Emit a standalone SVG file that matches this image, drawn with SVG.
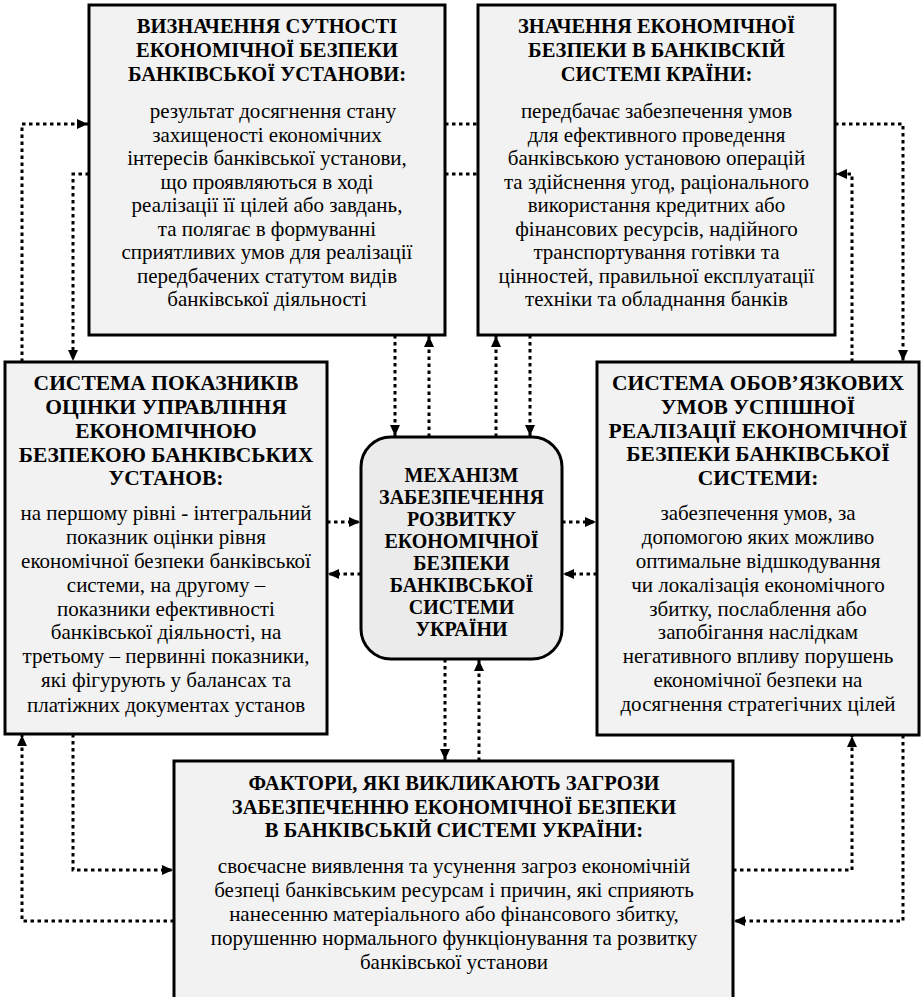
<svg xmlns="http://www.w3.org/2000/svg" width="923" height="997" viewBox="0 0 923 997">
  <defs>
    <marker id="head" viewBox="0 0 11 10" refX="11" refY="5" markerWidth="11" markerHeight="10" markerUnits="userSpaceOnUse" orient="auto">
      <path d="M0,0 L11,5 L0,10 z" fill="#000"/>
    </marker>
  </defs>

  <rect width="923" height="997" fill="#fff"/>

  <!-- connectors: dotted links, arrowhead at the receiving end -->
  <g id="connectors" fill="none" stroke="#000" stroke-width="3" stroke-dasharray="3.5 3.5">
    <path marker-end="url(#head)" d="M22,362 V124 H88"/>
    <path marker-end="url(#head)" d="M89,174 H73 V361"/>
    <path d="M445,124 H478"/>
    <path d="M445,174 H478"/>
    <path marker-end="url(#head)" d="M835,124 H903 V361"/>
    <path marker-end="url(#head)" d="M852,362 V174 H836"/>
    <path marker-end="url(#head)" d="M395,335 V436"/>
    <path marker-end="url(#head)" d="M429,437 V336"/>
    <path marker-end="url(#head)" d="M496,437 V336"/>
    <path marker-end="url(#head)" d="M530,335 V436"/>
    <path marker-end="url(#head)" d="M327,522 H360"/>
    <path marker-end="url(#head)" d="M361,574 H328"/>
    <path marker-end="url(#head)" d="M562,522 H596"/>
    <path marker-end="url(#head)" d="M597,574 H563"/>
    <path marker-end="url(#head)" d="M445,659 V760"/>
    <path marker-end="url(#head)" d="M479,761 V660"/>
    <path marker-end="url(#head)" d="M73,734 V870 H173"/>
    <path marker-end="url(#head)" d="M174,921 H22 V735"/>
    <path marker-end="url(#head)" d="M733,870 H852 V736"/>
    <path marker-end="url(#head)" d="M903,735 V921 H734"/>
  </g>

  <!-- essence of economic security of a bank -->
  <g id="essence">
    <rect x="89" y="5" width="356" height="330" fill="#f2f2f2" stroke="#000" stroke-width="3"/>
    <text style="font-family:'Liberation Serif',serif;font-weight:bold;font-size:20.5px;text-anchor:middle" x="267" y="33">ВИЗНАЧЕННЯ СУТНОСТІ</text>
    <text style="font-family:'Liberation Serif',serif;font-weight:bold;font-size:20.5px;text-anchor:middle" x="267" y="56.5">ЕКОНОМІЧНОЇ БЕЗПЕКИ</text>
    <text style="font-family:'Liberation Serif',serif;font-weight:bold;font-size:20.5px;text-anchor:middle" x="267" y="80.5">БАНКІВСЬКОЇ УСТАНОВИ:</text>
    <text style="font-family:'Liberation Serif',serif;font-size:21px;text-anchor:middle" x="273" y="118">результат досягнення стану</text>
    <text style="font-family:'Liberation Serif',serif;font-size:21px;text-anchor:middle" x="267" y="141.5">захищеності економічних</text>
    <text style="font-family:'Liberation Serif',serif;font-size:21px;text-anchor:middle" x="267" y="165">інтересів банківської установи,</text>
    <text style="font-family:'Liberation Serif',serif;font-size:21px;text-anchor:middle" x="267" y="188.5">що проявляються в ході</text>
    <text style="font-family:'Liberation Serif',serif;font-size:21px;text-anchor:middle" x="267" y="212">реалізації її цілей або завдань,</text>
    <text style="font-family:'Liberation Serif',serif;font-size:21px;text-anchor:middle" x="267" y="235.5">та полягає в формуванні</text>
    <text style="font-family:'Liberation Serif',serif;font-size:21px;text-anchor:middle" x="267" y="259">сприятливих умов для реалізації</text>
    <text style="font-family:'Liberation Serif',serif;font-size:21px;text-anchor:middle" x="267" y="282.5">передбачених статутом видів</text>
    <text style="font-family:'Liberation Serif',serif;font-size:21px;text-anchor:middle" x="267" y="306">банківської діяльності</text>
  </g>

  <!-- significance for the banking system -->
  <g id="significance">
    <rect x="478" y="5" width="357" height="330" fill="#f2f2f2" stroke="#000" stroke-width="3"/>
    <text style="font-family:'Liberation Serif',serif;font-weight:bold;font-size:20.5px;text-anchor:middle" x="656.5" y="33">ЗНАЧЕННЯ ЕКОНОМІЧНОЇ</text>
    <text style="font-family:'Liberation Serif',serif;font-weight:bold;font-size:20.5px;text-anchor:middle" x="656.5" y="56.5">БЕЗПЕКИ В БАНКІВСКІЙ</text>
    <text style="font-family:'Liberation Serif',serif;font-weight:bold;font-size:20.5px;text-anchor:middle" x="656.5" y="80.5">СИСТЕМІ КРАЇНИ:</text>
    <text style="font-family:'Liberation Serif',serif;font-size:21px;text-anchor:middle" x="656.5" y="118">передбачає забезпечення умов</text>
    <text style="font-family:'Liberation Serif',serif;font-size:21px;text-anchor:middle" x="656.5" y="141.5">для ефективного проведення</text>
    <text style="font-family:'Liberation Serif',serif;font-size:21px;text-anchor:middle" x="656.5" y="165">банківською установою операцій</text>
    <text style="font-family:'Liberation Serif',serif;font-size:21px;text-anchor:middle" x="656.5" y="188.5">та здійснення угод, раціонального</text>
    <text style="font-family:'Liberation Serif',serif;font-size:21px;text-anchor:middle" x="656.5" y="212">використання кредитних або</text>
    <text style="font-family:'Liberation Serif',serif;font-size:21px;text-anchor:middle" x="656.5" y="235.5">фінансових ресурсів, надійного</text>
    <text style="font-family:'Liberation Serif',serif;font-size:21px;text-anchor:middle" x="656.5" y="259">транспортування готівки та</text>
    <text style="font-family:'Liberation Serif',serif;font-size:21px;text-anchor:middle" x="656.5" y="282.5">цінностей, правильної експлуатації</text>
    <text style="font-family:'Liberation Serif',serif;font-size:21px;text-anchor:middle" x="656.5" y="306">техніки та обладнання банків</text>
  </g>

  <!-- indicator system -->
  <g id="indicators">
    <rect x="5" y="362" width="322" height="372" fill="#f2f2f2" stroke="#000" stroke-width="3"/>
    <text style="font-family:'Liberation Serif',serif;font-weight:bold;font-size:21.5px;text-anchor:middle" x="166" y="390">СИСТЕМА ПОКАЗНИКІВ</text>
    <text style="font-family:'Liberation Serif',serif;font-weight:bold;font-size:21.5px;text-anchor:middle" x="166" y="413.5">ОЦІНКИ УПРАВЛІННЯ</text>
    <text style="font-family:'Liberation Serif',serif;font-weight:bold;font-size:21.5px;text-anchor:middle" x="166" y="437.5">ЕКОНОМІЧНОЮ</text>
    <text style="font-family:'Liberation Serif',serif;font-weight:bold;font-size:21.5px;text-anchor:middle" x="166" y="461.5">БЕЗПЕКОЮ БАНКІВСЬКИХ</text>
    <text style="font-family:'Liberation Serif',serif;font-weight:bold;font-size:21.5px;text-anchor:middle" x="166" y="485">УСТАНОВ:</text>
    <text style="font-family:'Liberation Serif',serif;font-size:21px;text-anchor:middle" x="166" y="520">на першому рівні - інтегральний</text>
    <text style="font-family:'Liberation Serif',serif;font-size:21px;text-anchor:middle" x="166" y="543.5">показник оцінки рівня</text>
    <text style="font-family:'Liberation Serif',serif;font-size:21px;text-anchor:middle" x="166" y="568">економічної безпеки банківської</text>
    <text style="font-family:'Liberation Serif',serif;font-size:21px;text-anchor:middle" x="166" y="592">системи, на другому –</text>
    <text style="font-family:'Liberation Serif',serif;font-size:21px;text-anchor:middle" x="166" y="615.5">показники ефективності</text>
    <text style="font-family:'Liberation Serif',serif;font-size:21px;text-anchor:middle" x="166" y="639">банківської діяльності, на</text>
    <text style="font-family:'Liberation Serif',serif;font-size:21px;text-anchor:middle" x="166" y="663">третьому – первинні показники,</text>
    <text style="font-family:'Liberation Serif',serif;font-size:21px;text-anchor:middle" x="166" y="687">які фігурують у балансах та</text>
    <text style="font-family:'Liberation Serif',serif;font-size:21px;text-anchor:middle" x="166" y="711.5">платіжних документах установ</text>
  </g>

  <!-- central mechanism -->
  <g id="mechanism">
    <rect x="361" y="437" width="201" height="222" rx="30" ry="30" fill="#ebebeb" stroke="#000" stroke-width="3"/>
    <text style="font-family:'Liberation Serif',serif;font-weight:bold;font-size:20px;text-anchor:middle" x="461.5" y="481.5">МЕХАНІЗМ</text>
    <text style="font-family:'Liberation Serif',serif;font-weight:bold;font-size:20px;text-anchor:middle" x="461.5" y="503.5">ЗАБЕЗПЕЧЕННЯ</text>
    <text style="font-family:'Liberation Serif',serif;font-weight:bold;font-size:20px;text-anchor:middle" x="461.5" y="525.5">РОЗВИТКУ</text>
    <text style="font-family:'Liberation Serif',serif;font-weight:bold;font-size:20px;text-anchor:middle" x="461.5" y="548">ЕКОНОМІЧНОЇ</text>
    <text style="font-family:'Liberation Serif',serif;font-weight:bold;font-size:20px;text-anchor:middle" x="461.5" y="570">БЕЗПЕКИ</text>
    <text style="font-family:'Liberation Serif',serif;font-weight:bold;font-size:20px;text-anchor:middle" x="461.5" y="592">БАНКІВСЬКОЇ</text>
    <text style="font-family:'Liberation Serif',serif;font-weight:bold;font-size:20px;text-anchor:middle" x="461.5" y="614">СИСТЕМИ</text>
    <text style="font-family:'Liberation Serif',serif;font-weight:bold;font-size:20px;text-anchor:middle" x="461.5" y="635.5">УКРАЇНИ</text>
  </g>

  <!-- mandatory conditions -->
  <g id="conditions">
    <rect x="597" y="362" width="322" height="373" fill="#f2f2f2" stroke="#000" stroke-width="3"/>
    <text style="font-family:'Liberation Serif',serif;font-weight:bold;font-size:21.5px;text-anchor:middle" x="758" y="390">СИСТЕМА ОБОВ’ЯЗКОВИХ</text>
    <text style="font-family:'Liberation Serif',serif;font-weight:bold;font-size:21.5px;text-anchor:middle" x="758" y="413.5">УМОВ УСПІШНОЇ</text>
    <text style="font-family:'Liberation Serif',serif;font-weight:bold;font-size:21.5px;text-anchor:middle" x="758" y="437.5">РЕАЛІЗАЦІЇ ЕКОНОМІЧНОЇ</text>
    <text style="font-family:'Liberation Serif',serif;font-weight:bold;font-size:21.5px;text-anchor:middle" x="758" y="461">БЕЗПЕКИ БАНКІВСЬКОЇ</text>
    <text style="font-family:'Liberation Serif',serif;font-weight:bold;font-size:21.5px;text-anchor:middle" x="758" y="485">СИСТЕМИ:</text>
    <text style="font-family:'Liberation Serif',serif;font-size:21px;text-anchor:middle" x="758" y="520">забезпечення умов, за</text>
    <text style="font-family:'Liberation Serif',serif;font-size:21px;text-anchor:middle" x="758" y="543.5">допомогою яких можливо</text>
    <text style="font-family:'Liberation Serif',serif;font-size:21px;text-anchor:middle" x="758" y="568">оптимальне відшкодування</text>
    <text style="font-family:'Liberation Serif',serif;font-size:21px;text-anchor:middle" x="758" y="592">чи локалізація економічного</text>
    <text style="font-family:'Liberation Serif',serif;font-size:21px;text-anchor:middle" x="758" y="615.5">збитку, послаблення або</text>
    <text style="font-family:'Liberation Serif',serif;font-size:21px;text-anchor:middle" x="758" y="639">запобігання наслідкам</text>
    <text style="font-family:'Liberation Serif',serif;font-size:21px;text-anchor:middle" x="758" y="663">негативного впливу порушень</text>
    <text style="font-family:'Liberation Serif',serif;font-size:21px;text-anchor:middle" x="758" y="687">економічної безпеки на</text>
    <text style="font-family:'Liberation Serif',serif;font-size:21px;text-anchor:middle" x="758" y="711">досягнення стратегічних цілей</text>
  </g>

  <!-- threat factors (box runs past the lower edge) -->
  <g id="factors">
    <rect x="174" y="761" width="559" height="250" fill="#f2f2f2" stroke="#000" stroke-width="3"/>
    <text style="font-family:'Liberation Serif',serif;font-weight:bold;font-size:20.5px;text-anchor:middle" x="454" y="790">ФАКТОРИ, ЯКІ ВИКЛИКАЮТЬ ЗАГРОЗИ</text>
    <text style="font-family:'Liberation Serif',serif;font-weight:bold;font-size:20.5px;text-anchor:middle" x="454" y="814">ЗАБЕЗПЕЧЕННЮ ЕКОНОМІЧНОЇ БЕЗПЕКИ</text>
    <text style="font-family:'Liberation Serif',serif;font-weight:bold;font-size:20.5px;text-anchor:middle" x="454" y="837">В БАНКІВСЬКІЙ СИСТЕМІ УКРАЇНИ:</text>
    <text style="font-family:'Liberation Serif',serif;font-size:21px;text-anchor:middle" x="454" y="873">своєчасне виявлення та усунення загроз економічній</text>
    <text style="font-family:'Liberation Serif',serif;font-size:21px;text-anchor:middle" x="454" y="897">безпеці банківським ресурсам і причин, які сприяють</text>
    <text style="font-family:'Liberation Serif',serif;font-size:21px;text-anchor:middle" x="454" y="921">нанесенню матеріального або фінансового збитку,</text>
    <text style="font-family:'Liberation Serif',serif;font-size:21px;text-anchor:middle" x="454" y="945">порушенню нормального функціонування та розвитку</text>
    <text style="font-family:'Liberation Serif',serif;font-size:21px;text-anchor:middle" x="454" y="969">банківської установи</text>
  </g>
</svg>
